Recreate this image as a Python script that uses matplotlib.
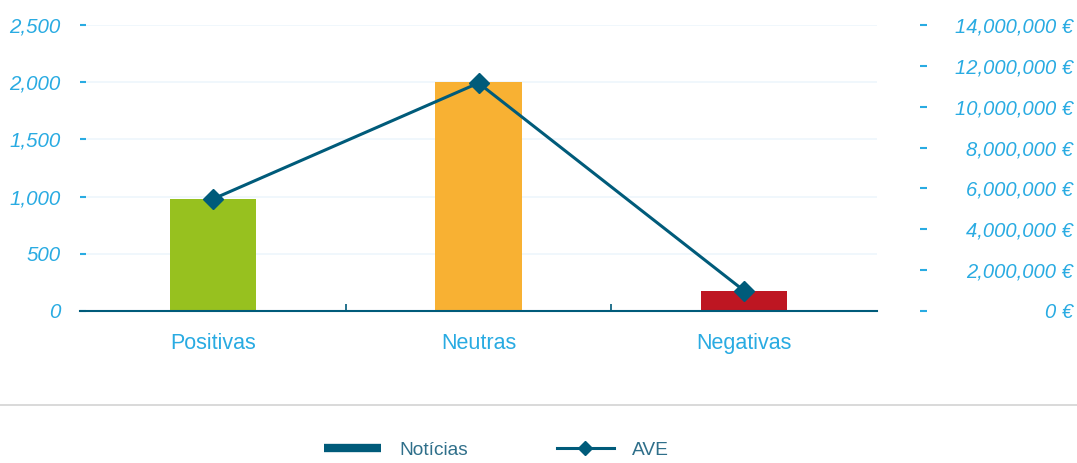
import matplotlib
matplotlib.use("Agg")
import matplotlib.pyplot as plt
from matplotlib.lines import Line2D
from matplotlib.ticker import FuncFormatter, FixedLocator

# data
categories = ["Positivas", "Neutras", "Negativas"]
noticias = [978, 2003, 172]
ave = [5480000, 11160000, 990000]
bar_colors = ["#97c11f", "#f8b133", "#be1622"]

left_ticks = [0, 500, 1000, 1500, 2000, 2500]
right_ticks = [0, 2000000, 4000000, 6000000, 8000000, 10000000, 12000000, 14000000]

LABEL = "#29abe2"
DARK = "#005b7a"
GRID = "#eef6fc"

plt.rcParams["font.family"] = ["Liberation Sans", "DejaVu Sans"]

fig = plt.figure(figsize=(10.77, 4.63), dpi=100)
ax = fig.add_axes([0.0743, 0.3283, 0.7400, 0.946 - 0.3283])

x = list(range(len(categories)))
ax.bar(x, noticias, width=0.325, color=bar_colors, zorder=2)
ax.set_xlim(-0.5, 2.5)
ax.set_ylim(0, 2500)
ax.set_yticks(left_ticks)
ax.yaxis.set_major_formatter(FuncFormatter(lambda v, p: f"{v:,.0f}"))
ax.grid(axis="y", color=GRID, linewidth=1.2, zorder=0)
ax.set_axisbelow(True)

for s in ["top", "right", "left"]:
    ax.spines[s].set_visible(False)
ax.spines["bottom"].set_color(DARK)
ax.spines["bottom"].set_linewidth(1.5)

ax.tick_params(axis="y", direction="in", length=4.5, width=1.5, color=LABEL,
               labelcolor=LABEL, labelsize=14.8, pad=14)
for t in ax.get_yticklabels():
    t.set_fontstyle("italic")

ax.set_xticks(x)
ax.set_xticklabels(categories)
ax.tick_params(axis="x", length=0, labelcolor=LABEL, labelsize=15.5, pad=16)
ax.xaxis.set_minor_locator(FixedLocator([0.5, 1.5]))
ax.tick_params(axis="x", which="minor", direction="in", length=5, width=1.2, color=DARK)

# AVE on the secondary axis
ax2 = ax.twinx()
ax2.plot(x, ave, color=DARK, linewidth=2.2, marker="D", markersize=10, zorder=3)
ax2.set_ylim(0, 14000000)
ax2.set_yticks(right_ticks)
ax2.yaxis.set_major_formatter(FuncFormatter(lambda v, p: f"{v:,.0f} €"))
for s in ["top", "left", "bottom"]:
    ax2.spines[s].set_visible(False)
ax2.spines["right"].set_position(("outward", 31))
ax2.spines["right"].set_visible(False)
ax2.tick_params(axis="y", direction="out", length=5, width=1.5, color=LABEL,
                labelcolor=LABEL, labelsize=14.5, pad=105)
for t in ax2.get_yticklabels():
    t.set_fontstyle("italic")
    t.set_horizontalalignment("right")

# separator above the legend
fig.add_artist(Line2D([0, 1], [1 - 405 / 463, 1 - 405 / 463], transform=fig.transFigure,
                      color="#d3d3d3", linewidth=1.2))

handles = [
    Line2D([], [], color=DARK, linewidth=6, solid_capstyle="butt"),
    Line2D([], [], color=DARK, linewidth=2.2, marker="D", markersize=7),
]
fig.legend(handles, ["Notícias", "AVE"], loc="center", bbox_to_anchor=(0.461, 0.027),
           ncol=2, frameon=False, fontsize=13.8, labelcolor="#2f6f8a",
           handlelength=3.0, handletextpad=0.95, columnspacing=4.6,
           borderpad=0.1)

fig.savefig("out.png", dpi=100)
